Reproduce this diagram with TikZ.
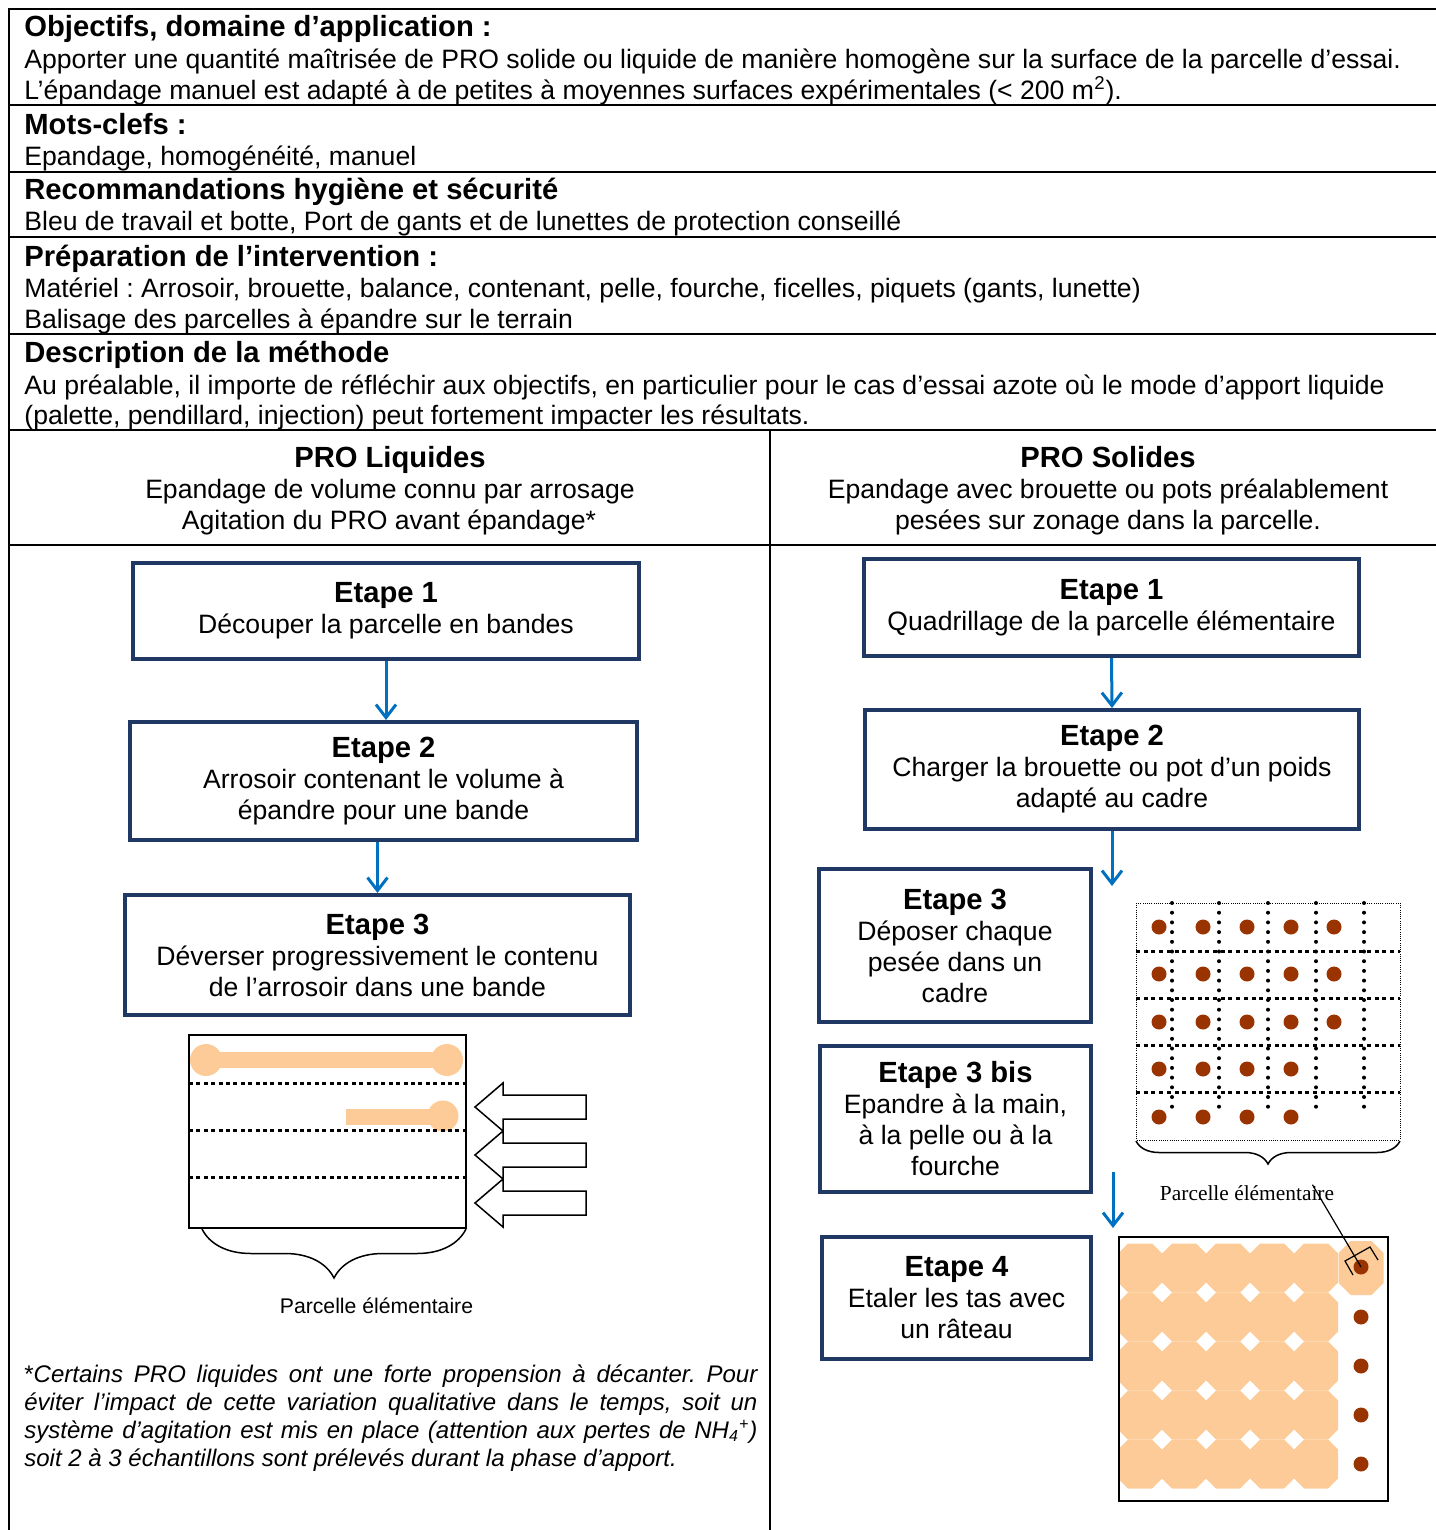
\documentclass[tikz,border=0pt]{standalone}
\usepackage{fontspec}
\setmainfont{Liberation Sans}
\newfontfamily\plotserif{Liberation Serif}
\usetikzlibrary{arrows.meta,decorations.pathreplacing}
\frenchspacing
\definecolor{stepnavy}{HTML}{1F3864}
\definecolor{flowblue}{HTML}{0070C0}
\definecolor{pastepeach}{HTML}{FCCB98}
\definecolor{heapbrown}{HTML}{993300}
\tikzset{
  frame rule/.style={draw=black, line width=1pt},
  head title/.style={anchor=base west, inner sep=0pt,
    font=\fontsize{14.6}{16}\selectfont\bfseries},
  head text/.style={anchor=base west, inner sep=0pt,
    font=\fontsize{13.3}{15.5}\selectfont},
  col title/.style={anchor=base, inner sep=0pt,
    font=\fontsize{14.6}{16}\selectfont\bfseries},
  col text/.style={anchor=base, inner sep=0pt,
    font=\fontsize{13.3}{15.5}\selectfont},
  step box/.style={draw=stepnavy, line width=2pt, align=center,
    inner sep=0pt, font=\fontsize{13.3}{15.5}\selectfont},
  flow arrow/.style={draw=flowblue, line width=1.5pt,
    -{Straight Barb[length=6.5pt, width=10pt, line width=1.5pt]}},
  push arrow/.style={draw=black, fill=white, line width=0.75pt},
  paste stroke/.style={draw=pastepeach, line width=8pt},
  parcel edge/.style={draw=black, line width=0.75pt},
  band line/.style={draw=black, line width=1.5pt, dash pattern=on 2pt off 1.7pt},
  grid border/.style={draw=black, line width=0.5pt, dash pattern=on 0.5pt off 0.6pt},
  grid row/.style={draw=black, line width=1.5pt, dash pattern=on 2pt off 1.85pt},
  grid col/.style={draw=black, line width=2pt, line cap=round,
    dash pattern=on 0pt off 4.85pt},
  parcel brace/.style={draw=black, line width=0.75pt, decorate,
    decoration={brace, mirror, amplitude=#1}},
  parcel label/.style={anchor=base, inner sep=0pt,
    font=\fontsize{10.6}{12}\selectfont},
  serif label/.style={anchor=base, inner sep=0pt,
    font=\plotserif\fontsize{10.7}{12}\selectfont},
  heap dot/.style={circle, fill=heapbrown, inner sep=0pt, minimum size=7.5pt},
  spread heap/.style={fill=pastepeach},
  pointer line/.style={draw=black, line width=0.6pt},
  plot edge/.style={draw=black, line width=1pt},
  footnote text/.style={anchor=north west, inner sep=0pt, text width=366.5pt,
    align=justify, font=\fontsize{12}{14}\selectfont\itshape},
}
\newcommand{\steptitle}[1]{{\fontsize{14.6}{15.5}\selectfont\bfseries #1}}

\begin{document}
\begin{tikzpicture}[x=0.5pt, y=-0.5pt]
  \useasboundingbox (0,0) rectangle (1435,1530);

  % Frame of the sheet.
  \draw[frame rule] (1436,9) -- (9,9) -- (9,1531);
  \foreach \ry in {105,172,237,334,430,545}
    \draw[frame rule] (9,\ry) -- (1436,\ry);
  \draw[frame rule] (770,430) -- (770,1531);

  % Header sections.
  \node[head title] (obj title) at (24,37) {Objectifs, domaine d’application :};
  \node[head text] (obj text a) at (24,69)
    {Apporter une quantité maîtrisée de PRO solide ou liquide de manière homogène sur la surface de la parcelle d’essai.};
  \node[head text] (obj text b) at (24,100)
    {L’épandage manuel est adapté à de petites à moyennes surfaces expérimentales (< 200 m\textsuperscript{2}).};
  \node[head title] (key title) at (24,135) {Mots-clefs :};
  \node[head text] (key text) at (24,166) {Epandage, homogénéité, manuel};
  \node[head title] (safety title) at (24,200) {Recommandations hygiène et sécurité};
  \node[head text] (safety text) at (24,231)
    {Bleu de travail et botte, Port de gants et de lunettes de protection conseillé};
  \node[head title] (prep title) at (24,266) {Préparation de l’intervention :};
  \node[head text] (prep text a) at (24,297)
    {Matériel : Arrosoir, brouette, balance, contenant, pelle, fourche, ficelles, piquets (gants, lunette)};
  \node[head text] (prep text b) at (24,328) {Balisage des parcelles à épandre sur le terrain};
  \node[head title] (method title) at (24,362) {Description de la méthode};
  \node[head text] (method text a) at (24,394)
    {Au préalable, il importe de réfléchir aux objectifs, en particulier pour le cas d’essai azote où le mode d’apport liquide};
  \node[head text] (method text b) at (24,424)
    {(palette, pendillard, injection) peut fortement impacter les résultats.};

  % Column headers.
  \node[col title] (liquid title) at (390,467) {PRO Liquides};
  \node[col text] (liquid text a) at (390,498) {Epandage de volume connu par arrosage};
  \node[col text] (liquid text b) at (389,529) {Agitation du PRO avant épandage*};
  \node[col title] (solid title) at (1108,467) {PRO Solides};
  \node[col text] (solid text a) at (1108,498) {Epandage avec brouette ou pots préalablement};
  \node[col text] (solid text b) at (1108,529) {pesées sur zonage dans la parcelle.};

  % Liquid steps.
  \node[step box, minimum width=253pt, minimum height=48pt] (liquid step1)
    at (386,611) {\steptitle{Etape 1}\\Découper la parcelle en bandes};
  \node[step box, minimum width=253.5pt, minimum height=59pt] (liquid step2)
    at (383.5,781) {\steptitle{Etape 2}\\Arrosoir contenant le volume à\\épandre pour une bande};
  \node[step box, minimum width=252.5pt, minimum height=60pt] (liquid step3)
    at (377.5,955) {\steptitle{Etape 3}\\Déverser progressivement le contenu\\de l’arrosoir dans une bande};
  \draw[flow arrow] (liquid step1.south) -- (liquid step1.south |- liquid step2.north);
  \draw[flow arrow] (liquid step2.south -| liquid step3.north) -- (liquid step3.north);

  % Liquid plot: bands and watering direction.
  \draw[paste stroke] (206,1060) -- (447,1060);
  \fill[pastepeach] (206,1060) circle[radius=8pt] (447,1060) circle[radius=8pt];
  \draw[paste stroke] (346,1116.5) -- (443,1116.5);
  \fill[pastepeach] (443,1116) circle[radius=7.75pt];
  \foreach \by in {1083,1130,1177}
    \draw[band line] (189,\by) -- (466,\by);
  \draw[parcel edge] (189,1035) rectangle (466,1228);
  \foreach \ay in {1107,1155,1203}
    \draw[push arrow] (475,\ay) -- (503,{\ay-24}) -- (503,{\ay-12}) -- (586,{\ay-12})
      -- (586,{\ay+12}) -- (503,{\ay+12}) -- (503,{\ay+24}) -- cycle;
  \draw[parcel brace=24.5pt] (202,1229) -- (466,1229);
  \node[parcel label] (liquid parcel) at (376.5,1313) {Parcelle élémentaire};

  % Footnote.
  \node[footnote text] (liquid note) at (24,1364)
    {\textup{*}Certains PRO liquides ont une forte propension à décanter. Pour\linebreak
     éviter l’impact de cette variation qualitative dans le temps, soit un\linebreak
     système d’agitation est mis en place (attention aux pertes de NH\textsubscript{4}\textsuperscript{+})\linebreak
     soit 2 à 3 échantillons sont prélevés durant la phase d’apport.};

  % Solid steps.
  \node[step box, minimum width=247.5pt, minimum height=48.5pt] (solid step1)
    at (1111.5,607.5) {\steptitle{Etape 1}\\Quadrillage de la parcelle élémentaire};
  \node[step box, minimum width=247pt, minimum height=59.5pt] (solid step2)
    at (1112,769.5) {\steptitle{Etape 2}\\Charger la brouette ou pot d’un poids\\adapté au cadre};
  \node[step box, minimum width=136pt, minimum height=76.5pt] (solid step3)
    at (955,945.5) {\steptitle{Etape 3}\\Déposer chaque\\pesée dans un\\cadre};
  \node[step box, minimum width=135.5pt, minimum height=73pt] (solid step3b)
    at (955.5,1119) {\steptitle{Etape 3 bis}\\Epandre à la main,\\à la pelle ou à la\\fourche};
  \node[step box, minimum width=134.5pt, minimum height=61pt] (solid step4)
    at (956.5,1298) {\steptitle{Etape 4}\\Etaler les tas avec\\un râteau};
  \coordinate (grid drop) at (1112,886);
  \coordinate (rake from) at (1113,1172);
  \coordinate (rake drop) at (1113,1228);
  \draw[flow arrow] (solid step1.south) -- (solid step2.north);
  \draw[flow arrow] (solid step2.south) -- (grid drop);
  \draw[flow arrow] (rake from) -- (rake drop);

  % Solid plot: grid with one heap per cell.
  \draw[grid border] (1136,903) rectangle (1400,1140);
  \foreach \gy in {951,998,1045,1092}
    \draw[grid row] (1136,\gy) -- (1400,\gy);
  \foreach \gx in {1172,1219,1268,1316,1364}
    \draw[grid col] (\gx,903) -- (\gx,1111);
  \foreach \hy in {927,974,1022}
    \foreach \hx in {1159,1203,1247,1291,1334}
      \fill[heapbrown] (\hx,\hy) circle[radius=3.75pt];
  \foreach \hy in {1069,1117}
    \foreach \hx in {1159,1203,1247,1291}
      \fill[heapbrown] (\hx,\hy) circle[radius=3.75pt];
  \draw[parcel brace=11.5pt] (1136,1141) -- (1400,1141);
  \node[serif label] (solid parcel) at (1247,1200) {Parcelle élémentaire};

  % Solid plot: heaps spread with the rake.
  \foreach \ox in {1140,1184,...,1316}
    \foreach \oy in {1268,1317,...,1464}
      \fill[spread heap] (\ox,\oy) ++(-22,-14.5) -- ++(0,29) -- ++(10,10) -- ++(24,0)
        -- ++(10,-10) -- ++(0,-29) -- ++(-10,-10) -- ++(-24,0) -- cycle;
  \fill[spread heap] (1361,1268) ++(-22.5,-15) -- ++(0,30) -- ++(12,12) -- ++(21,0)
    -- ++(12,-12) -- ++(0,-30) -- ++(-12,-12) -- ++(-21,0) -- cycle;
  \node[heap dot] (corner heap) at (1361,1267) {};
  \foreach \hy in {1317,1366,1415,1464}
    \fill[heapbrown] (1361,\hy) circle[radius=3.75pt];
  \draw[plot edge] (1119,1237) rectangle (1388,1501);
  \draw[pointer line] ([xshift=-11pt]solid parcel.north east) -- (corner heap.center);
  \draw[pointer line] (1353,1275) -- (1345,1261) -- (1370,1247) -- (1378,1260);
\end{tikzpicture}
\end{document}
